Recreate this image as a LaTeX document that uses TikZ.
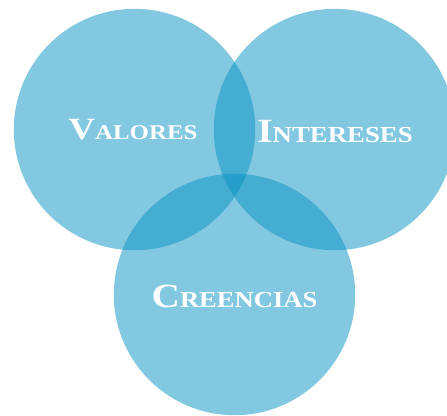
\documentclass[tikz,border=0pt]{standalone}
\usepackage{fontspec}
\usepackage{graphicx}
\setmainfont{Liberation Serif}
\definecolor{venn}{RGB}{8,145,195}
\newcommand{\vennword}[4]{\scalebox{#4}[1]{{\fontsize{#1}{#1}\selectfont #2}{\fontsize{#3}{#3}\selectfont #2\kern0pt}}}
\newcommand{\vennlbl}[5]{\scalebox{#5}[1]{{\fontsize{#1}{#1}\selectfont #2}{\fontsize{#3}{#3}\selectfont #4}}}
\begin{document}
\begin{tikzpicture}[x=1bp,y=-1bp,
  venncircle/.style={fill=venn,fill opacity=0.5,draw=none},
  vennlabel/.style={text=white,font=\bfseries,anchor=base,inner sep=0pt}]
\useasboundingbox (0,0) rectangle (447,415);
\clip (0,0) rectangle (447,415);
\fill[venncircle] (134.5,129.5) circle[radius=120.7];
\fill[venncircle] (334.5,129.5) circle[radius=120.7];
\fill[venncircle] (234.5,294.5) circle[radius=120.7];
\node[vennlabel] (valores) at (133,139.5) {\vennlbl{31}{V}{21}{ALORES}{1.19}};
\node[vennlabel] (intereses) at (335,142.5) {\vennlbl{34}{I}{23}{NTERESES}{1.17}};
\node[vennlabel] (creencias) at (234.5,307) {\vennlbl{34}{C}{23}{REENCIAS}{1.16}};
\end{tikzpicture}
\end{document}
